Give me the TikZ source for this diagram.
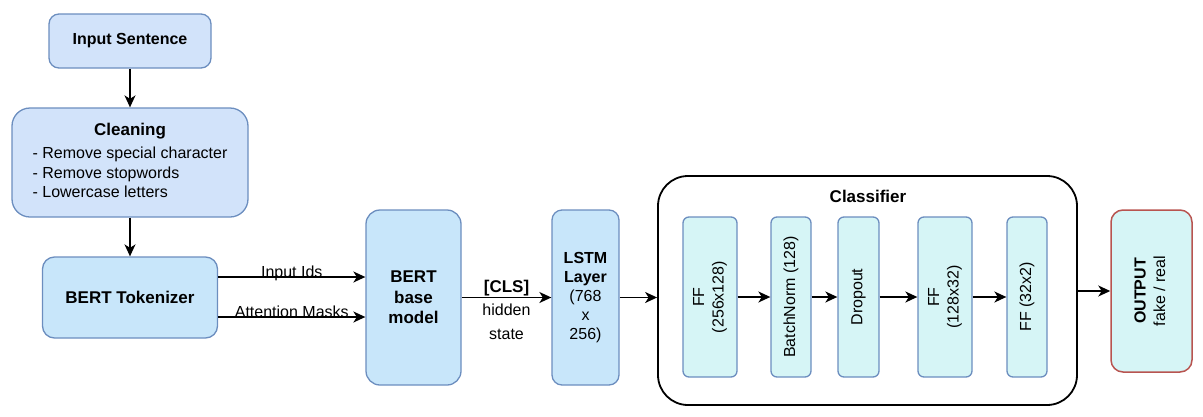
\documentclass[tikz,border=0pt]{standalone}
\usepackage{fontspec}
\setmainfont{Liberation Sans}
\usepackage{graphicx}
\usetikzlibrary{arrows.meta}

\definecolor{inblue}{HTML}{D2E3FA}
\definecolor{tokblue}{HTML}{C8E6FA}
\definecolor{ffcyan}{HTML}{D6F5F6}
\definecolor{edgeblue}{HTML}{6C8EBF}
\definecolor{edgered}{HTML}{B85450}

\newcommand{\regfont}{\fontsize{16}{19.5}\selectfont}
\newcommand{\boldfont}{\fontsize{17}{20.5}\selectfont\bfseries}

\tikzset{
    box/.style={draw=edgeblue, line width=1.3pt, inner sep=0pt, align=center},
    inbox/.style={box, fill=inblue, rounded corners=10pt},
    tokbox/.style={box, fill=tokblue, rounded corners=12pt},
    ffbox/.style={box, fill=ffcyan, rounded corners=6pt, minimum height=160pt, font=\regfont},
    outbox/.style={box, draw=edgered, line width=1.5pt, fill=ffcyan, rounded corners=12pt},
    arr/.style={line width=1.5pt, -{Stealth[length=12pt,width=11pt,inset=3.5pt]}},
    lbl/.style={font=\regfont, inner sep=1pt},
}

\begin{document}
\begin{tikzpicture}[x=1pt,y=-1pt]
    \useasboundingbox (0,0) rectangle (1203,416);

    % Preprocessing boxes
    \node[inbox, minimum width=162pt, minimum height=54pt, font=\fontsize{16}{19}\selectfont\bfseries] (insent) at (130,41) {Input Sentence};
    \node[inbox, rounded corners=18pt, minimum width=236pt, minimum height=109pt, font=\regfont] (clean) at (130,162.5)
        {\begin{tabular}{@{}l@{}}\multicolumn{1}{@{}c@{}}{\boldfont Cleaning}\\[4pt]- Remove special character\\- Remove stopwords\\- Lowercase letters\end{tabular}};
    \node[tokbox, minimum width=175pt, minimum height=81pt, font=\boldfont] (tok) at (130,297.5) {BERT Tokenizer};

    % Encoder boxes
    \node[tokbox, rounded corners=14pt, minimum width=95pt, minimum height=175pt, font=\boldfont] (bert) at (413.5,297.5) {BERT\\base\\model};
    \node[tokbox, rounded corners=10pt, minimum width=67pt, minimum height=175pt, font=\fontsize{16}{19}\selectfont] (lstm) at (585.5,297.5)
        {\textbf{LSTM}\\\textbf{Layer}\\(768\\x\\256)};

    % Classifier
    \node[draw, line width=1.8pt, rounded corners=30pt, minimum width=419pt, minimum height=229pt] (cls) at (867.5,290.5) {};
    \node[font=\boldfont] (clstitle) at (868,196) {Classifier};
    \node[ffbox, minimum width=54pt] (ff1) at (710,297) {\rotatebox{90}{\begin{tabular}{@{}c@{}}FF\\(256x128)\end{tabular}}};
    \node[ffbox, minimum width=40pt] (bn) at (791,297) {\rotatebox{90}{BatchNorm (128)}};
    \node[ffbox, minimum width=41pt] (drop) at (858.5,297) {\rotatebox{90}{Dropout}};
    \node[ffbox, minimum width=54pt] (ff2) at (945,297) {\rotatebox{90}{\begin{tabular}{@{}c@{}}FF\\(128x32)\end{tabular}}};
    \node[ffbox, minimum width=40pt] (ff3) at (1027,297) {\rotatebox{90}{FF (32x2)}};

    % Output
    \node[outbox, minimum width=81pt, minimum height=162pt, font=\regfont] (out) at (1151.5,291)
        {\rotatebox{90}{\begin{tabular}{@{}c@{}}\bfseries OUTPUT\\fake / real\end{tabular}}};

    % Draw edges
    \draw[arr] (insent) -- (clean);
    \draw[arr] (clean) -- (tok);
    \draw[arr] ([yshift=20.5pt]tok.east) -- ([yshift=20.5pt]tok.east -| bert.west) node[lbl, midway, anchor=base] {Input Ids};
    \draw[arr] ([yshift=-19.5pt]tok.east) -- ([yshift=-19.5pt]tok.east -| bert.west) node[lbl, midway, anchor=base] {Attention Masks};
    \draw[arr] (bert) -- (lstm)
        node[lbl, midway, above, font=\boldfont] {[CLS]}
        node[lbl, midway, below, yshift=-5pt, align=center, font=\fontsize{16}{24}\selectfont] {hidden\\state};
    \draw[arr] (lstm) -- (lstm -| cls.west);
    \foreach \a/\b in {ff1/bn, bn/drop, drop/ff2, ff2/ff3} {
        \draw[arr] (\a) -- (\b);
    }
    \draw[arr] (cls.east |- out) -- (out);
\end{tikzpicture}
\end{document}
